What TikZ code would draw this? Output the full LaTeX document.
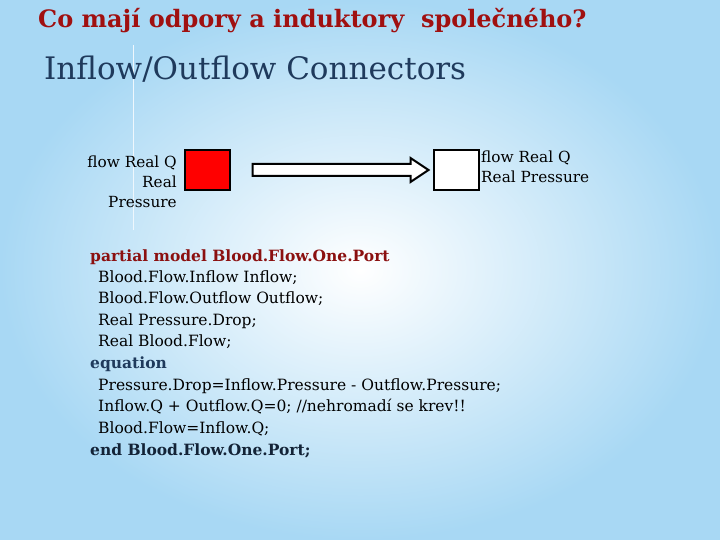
\documentclass[tikz,border=0pt]{standalone}
\usepackage{fontspec}
\setmainfont{DejaVu Serif}
\definecolor{bgblue}{HTML}{A8D8F4}
\definecolor{titlered}{HTML}{A01010}
\definecolor{navy}{HTML}{1F3A5C}
\definecolor{codered}{HTML}{8B1010}
\begin{document}
\begin{tikzpicture}[x=1pt,y=-1pt,
  lbl/.style={font=\fontsize{15.3}{17}\selectfont, inner sep=0pt},
  code/.style={font=\fontsize{15.5}{18}\selectfont, anchor=west, inner sep=0pt},
  portbox/.style={draw=black, line width=2pt, minimum width=45pt, minimum height=40pt, inner sep=0pt}]
\useasboundingbox (0,0) rectangle (720,540);
\shade[inner color=white, outer color=bgblue] (0,0) rectangle (720,540);
\draw[white!80!bgblue, line width=1pt] (133,45) -- (133,230);
\node[font=\bfseries\fontsize{24}{28}\selectfont, text=titlered, anchor=west, inner sep=0pt] (title) at (38,21) {Co mají odpory a induktory\ \ společného?};
\node[font=\fontsize{31}{34}\selectfont, text=navy, anchor=west, inner sep=0pt] (sub) at (44,69) {Inflow/Outflow Connectors};
\node[lbl, anchor=east, align=right] (ltext) at (177,182) {flow Real Q\\[3pt]Real\\[3pt]Pressure};
\node[portbox, fill=red] (inbox) at (207,170) {};
\node[portbox, fill=white] (outbox) at (456,170) {};
\node[lbl, anchor=north west, align=left] (rtext) at (481,151) {flow Real Q\\[3pt]Real Pressure};
\coordinate (a0) at ([xshift=22pt]inbox.east);
\coordinate (a1) at ([xshift=-4pt]outbox.west);
\draw[line width=2pt, line join=miter, fill=white] ([yshift=-6pt]a0) -- ([xshift=-18pt,yshift=-6pt]a1) -- ([xshift=-18pt,yshift=-12pt]a1) -- (a1) -- ([xshift=-18pt,yshift=12pt]a1) -- ([xshift=-18pt,yshift=6pt]a1) -- ([yshift=6pt]a0) -- cycle;
\node[code, font=\bfseries\fontsize{15.5}{18}\selectfont, text=codered] (c1) at (90,257) {partial model Blood.Flow.One.Port};
\node[code] (c2) at (98,278) {Blood.Flow.Inflow Inflow;};
\node[code] (c3) at (98,299) {Blood.Flow.Outflow Outflow;};
\node[code] (c4) at (98,321) {Real Pressure.Drop;};
\node[code] (c5) at (98,342) {Real Blood.Flow;};
\node[code, font=\bfseries\fontsize{15.5}{18}\selectfont, text=navy] (c6) at (90,364) {equation};
\node[code] (c7) at (98,386) {Pressure.Drop=Inflow.Pressure - Outflow.Pressure;};
\node[code] (c8) at (98,407) {Inflow.Q + Outflow.Q=0; //nehromadí se krev!!};
\node[code] (c9) at (98,429) {Blood.Flow=Inflow.Q;};
\node[code, font=\bfseries\fontsize{15.5}{18}\selectfont, text=navy!60!black] (c10) at (90,451) {end Blood.Flow.One.Port;};
\end{tikzpicture}
\end{document}
